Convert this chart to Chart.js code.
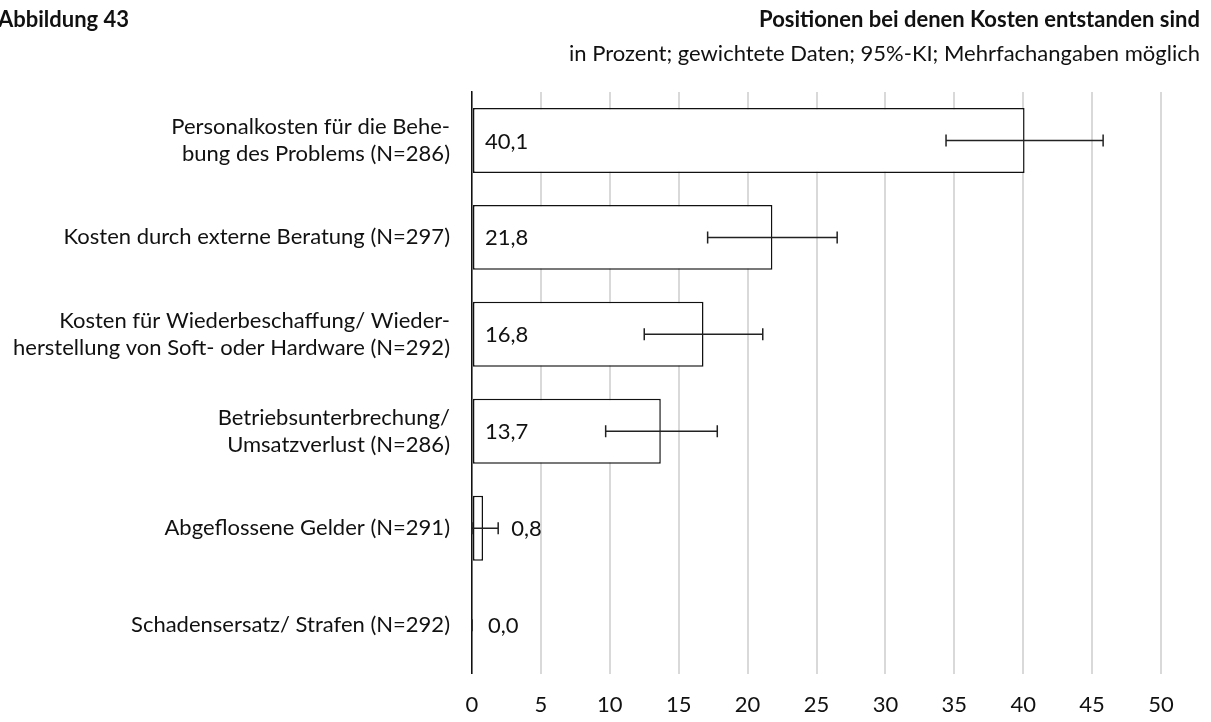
<!DOCTYPE html>
<html lang="de">
<head>
<meta charset="utf-8">
<title>Abbildung 43</title>
<script src="https://cdn.jsdelivr.net/npm/chart.js@4"></script>
<style>
  body { margin: 0; background: #fff; font-family: Lato, "Liberation Sans", sans-serif; color: #111; }
  #wrap { position: relative; width: 1211px; height: 722px; overflow: hidden; }
  #grafico { position: absolute; left: 0; top: 0; }
  .kopf { position: absolute; font-size: 22px; line-height: 26px; white-space: nowrap; }
  #abb { left: -2px; top: 6px; font-weight: bold; }
  #titel { right: 11px; top: 6px; font-weight: bold; }
  #untertitel { right: 11px; top: 40px; }
</style>
</head>
<body>
<div id="wrap">
  <canvas id="grafico" width="1211" height="722"></canvas>
  <div class="kopf" id="abb">Abbildung 43</div>
  <div class="kopf" id="titel">Positionen bei denen Kosten entstanden sind</div>
  <div class="kopf" id="untertitel">in Prozent; gewichtete Daten; 95%-KI; Mehrfachangaben möglich</div>
</div>
<script>
// Kategorien (mehrzeilig wie im Original)
const kategorien = [
    ['Personalkosten für die Behe-', 'bung des Problems (N=286)'],
    'Kosten durch externe Beratung (N=297)',
    ['Kosten für Wiederbeschaffung/ Wieder-', 'herstellung von Soft- oder Hardware (N=292)'],
    ['Betriebsunterbrechung/', 'Umsatzverlust (N=286)'],
    'Abgeflossene Gelder (N=291)',
    'Schadensersatz/ Strafen (N=292)'
];
const werte = [40.1, 21.8, 16.8, 13.7, 0.8, 0.0];
// 95%-Konfidenzintervalle
const kiUnten = [34.4, 17.1, 12.5, 9.7, 0.0, 0.0];
const kiOben  = [45.8, 26.5, 21.1, 17.8, 1.9, 0.0];
const xTicks = [0, 5, 10, 15, 20, 25, 30, 35, 40, 45, 50];

const schrift = { family: 'Lato, "Liberation Sans", sans-serif', size: 22 };

// Fehlerbalken und Wertebeschriftung
const fehlerbalken = {
    id: 'fehlerbalken',
    afterDatasetsDraw(chart) {
        const ctx = chart.ctx;
        const xs = chart.scales.x;
        const meta = chart.getDatasetMeta(0);
        ctx.save();
        meta.data.forEach((bar, i) => {
            const y = bar.y;
            const x1 = xs.getPixelForValue(kiUnten[i]);
            const x2 = xs.getPixelForValue(kiOben[i]);
            ctx.strokeStyle = '#222';
            ctx.lineWidth = 1.5;
            ctx.beginPath();
            ctx.moveTo(x1, y); ctx.lineTo(x2, y);
            ctx.moveTo(x1, y - 6); ctx.lineTo(x1, y + 6);
            ctx.moveTo(x2, y - 6); ctx.lineTo(x2, y + 6);
            ctx.stroke();
            // Beschriftung: im Balken links, bei kleinen Werten hinter dem Fehlerbalken
            const x0 = xs.getPixelForValue(0);
            let lx = x0 + 13;
            if (werte[i] < 5) lx = Math.max(x0 + 16, x2 + 13);
            ctx.fillStyle = '#111';
            ctx.font = schrift.size + 'px ' + schrift.family;
            ctx.textAlign = 'left';
            ctx.textBaseline = 'middle';
            ctx.fillText(werte[i].toFixed(1).replace('.', ','), lx, y + 1);
        });
        ctx.restore();
    }
};

new Chart(document.getElementById('grafico').getContext('2d'), {
    type: 'bar',
    data: {
        labels: kategorien,
        datasets: [{
            data: werte,
            backgroundColor: '#fff',
            borderColor: '#111',
            borderWidth: 1.5,
            borderSkipped: false,
            categoryPercentage: 1,
            barPercentage: 0.67
        }]
    },
    options: {
        indexAxis: 'y',
        responsive: false,
        animation: false,
        layout: { padding: { top: 92, right: 50, bottom: 0, left: 0 } },
        plugins: {
            legend: { display: false },
            tooltip: { enabled: false }
        },
        scales: {
            x: {
                min: 0, max: 50,
                afterBuildTicks: s => { s.ticks = xTicks.map(v => ({ value: v })); },
                grid: { color: '#d9d9d9', lineWidth: 2, drawTicks: false },
                border: { display: false },
                ticks: { color: '#111', font: schrift, padding: 18 },
                afterFit: s => { s.height = 42; }
            },
            y: {
                grid: { display: false, drawTicks: false },
                border: { color: '#111', width: 1.5 },
                ticks: { color: '#111', font: schrift, padding: 22 },
                afterFit: s => { s.width = 472; }
            }
        }
    },
    plugins: [fehlerbalken]
});
</script>
</body>
</html>
